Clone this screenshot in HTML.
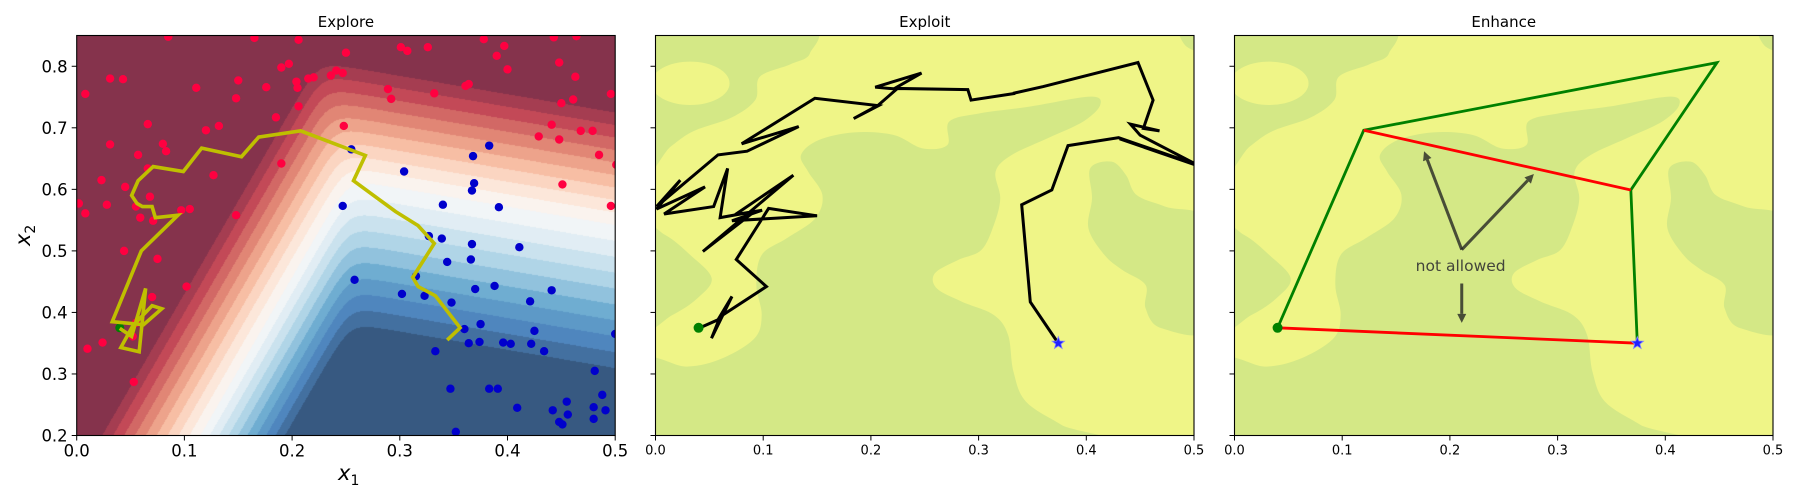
<!DOCTYPE html>
<html><head><meta charset="utf-8">
<style>
html,body{margin:0;padding:0;background:#fff;}
#wrap{position:relative;width:1800px;height:500px;overflow:hidden;background:#fff;}
canvas{position:absolute;left:77px;top:36px;}
svg{position:absolute;left:0;top:0;}
text{font-family:"DejaVu Sans","Liberation Sans",sans-serif;fill:#000;}
</style></head>
<body>
<div id="wrap">
<canvas id="bg1" width="538" height="400"></canvas>
<svg id="svg" width="1800" height="500" xmlns="http://www.w3.org/2000/svg">
<defs>
<clipPath id="c0"><rect x="76.7" y="35.5" width="538.5" height="400"/></clipPath>
<clipPath id="c1"><rect x="655.5" y="35.5" width="538.5" height="400"/></clipPath>
<clipPath id="c2"><rect x="1234.5" y="35.5" width="538.5" height="400"/></clipPath>
</defs>
</svg>
</div>
<script>
// ---------- data ----------
const xTicks = [0.0, 0.1, 0.2, 0.3, 0.4, 0.5];
const xTickLabels = ["0.0","0.1","0.2","0.3","0.4","0.5"];
const yTicks = [0.2, 0.3, 0.4, 0.5, 0.6, 0.7, 0.8];
const yTickLabels = ["0.2","0.3","0.4","0.5","0.6","0.7","0.8"];
const titles = ["Explore","Exploit","Enhance"];

const redX = [0.085,0.165,0.206,0.301,0.307,0.326,0.378,0.397,0.390,0.400,0.250,0.031,0.043,0.008,0.111,0.150,0.176,0.204,0.205,0.215,0.220,0.236,0.241,0.247,0.190,0.197,0.148,0.206,0.289,0.292,0.332,0.361,0.364,0.066,0.120,0.132,0.185,0.248,0.429,0.031,0.057,0.080,0.083,0.066,0.190,0.127,0.023,0.045,0.068,0.028,0.002,0.008,0.055,0.059,0.071,0.097,0.105,0.148,0.044,0.075,0.102,0.070,0.055,0.052,0.024,0.010,0.053,
  0.443,0.464,0.448,0.463,0.450,0.461,0.496,0.441,0.468,0.479,0.448,0.485,0.501,0.451,0.496];
const redY = [0.848,0.846,0.843,0.831,0.825,0.831,0.844,0.833,0.817,0.795,0.822,0.780,0.779,0.755,0.765,0.777,0.766,0.775,0.765,0.780,0.782,0.785,0.793,0.789,0.798,0.804,0.748,0.735,0.763,0.747,0.756,0.768,0.771,0.706,0.696,0.703,0.717,0.703,0.686,0.673,0.656,0.674,0.662,0.634,0.642,0.623,0.615,0.604,0.588,0.575,0.577,0.561,0.572,0.554,0.549,0.566,0.568,0.558,0.500,0.487,0.442,0.425,0.383,0.361,0.351,0.341,0.287,
  0.847,0.849,0.806,0.783,0.740,0.746,0.755,0.705,0.695,0.695,0.681,0.656,0.640,0.608,0.573];
const blueX = [0.255,0.383,0.368,0.304,0.369,0.367,0.247,0.340,0.392,0.327,0.339,0.367,0.411,0.344,0.366,0.315,0.258,0.388,0.370,0.302,0.323,0.348,0.421,0.360,0.375,0.425,0.364,0.374,0.396,0.403,0.422,0.333,
  0.441,0.500,0.434,0.481,0.488,0.455,0.442,0.456,0.480,0.491,0.480,0.448,0.451,0.347,0.383,0.391,0.409,0.352];
const blueY = [0.665,0.671,0.654,0.629,0.610,0.598,0.573,0.575,0.571,0.524,0.520,0.511,0.506,0.482,0.486,0.459,0.453,0.443,0.438,0.430,0.427,0.416,0.418,0.373,0.381,0.370,0.350,0.352,0.351,0.349,0.349,0.337,
  0.436,0.365,0.337,0.305,0.266,0.255,0.241,0.234,0.246,0.241,0.227,0.222,0.218,0.276,0.276,0.276,0.245,0.206];

const exploreX = [0.040,0.051,0.064,0.058,0.041,0.052,0.070,0.079,0.062,0.033,0.060,0.094,0.073,0.070,0.061,0.056,0.051,0.057,0.071,0.099,0.116,0.153,0.169,0.208,0.268,0.257,0.296,0.317,0.332,0.312,0.317,0.333,0.356,0.344];
const exploreY = [0.374,0.361,0.439,0.336,0.343,0.378,0.411,0.406,0.380,0.385,0.500,0.558,0.554,0.572,0.572,0.577,0.590,0.614,0.637,0.629,0.667,0.653,0.685,0.695,0.655,0.614,0.564,0.541,0.512,0.457,0.442,0.427,0.375,0.355];

const exploitX = [0.040,0.058,0.071,0.052,0.060,0.103,0.075,0.105,0.150,0.071,0.099,0.074,0.128,0.044,0.092,0.060,0.067,0.054,0.008,0.046,0.001,0.023,0.001,0.058,0.085,0.133,0.080,0.148,0.207,0.184,0.207,0.224,0.204,0.247,0.222,0.290,0.293,0.334,0.332,0.360,0.448,0.462,0.453,0.468,0.441,0.450,0.506,0.431,0.501,0.430,0.383,0.368,0.340,0.348,0.372,0.374];
const exploitY = [0.374,0.388,0.426,0.358,0.393,0.442,0.486,0.569,0.557,0.549,0.566,0.559,0.623,0.499,0.564,0.554,0.634,0.572,0.560,0.604,0.568,0.615,0.572,0.656,0.662,0.702,0.674,0.748,0.736,0.715,0.737,0.763,0.766,0.789,0.764,0.762,0.745,0.756,0.756,0.767,0.806,0.745,0.699,0.695,0.706,0.688,0.637,0.682,0.641,0.684,0.671,0.599,0.575,0.417,0.355,0.350];

const startPt = [0.040, 0.375];
const endPt = [0.374, 0.350];
const enhGreenX = [0.040,0.120,0.448,0.368,0.374];
const enhGreenY = [0.375,0.696,0.806,0.599,0.350];
const enhRedSegX = [[0.120,0.368],[0.040,0.374]];
const enhRedSegY = [[0.696,0.599],[0.375,0.350]];
const arrowFromX = [0.211,0.211,0.211];
const arrowFromY = [0.502,0.502,0.447];
const arrowToX = [0.176,0.278,0.211];
const arrowToY = [0.662,0.625,0.383];

// ---------- scales ----------
const lefts = [76.7, 655.5, 1234.5];
const PW = 538.5, TOP = 35.5, BOT = 435.5;
const X = (p, v) => lefts[p] + v / 0.5 * PW;
const Y = v => BOT - (v - 0.2) / 0.65 * (BOT - TOP);

const NS = "http://www.w3.org/2000/svg";
const svg = document.getElementById("svg");
function mk(tag, attrs, parent) {
  const e = document.createElementNS(NS, tag);
  for (const k in attrs) e.setAttribute(k, attrs[k]);
  (parent || svg).appendChild(e);
  return e;
}

// ---------- panel 1 contour background ----------
(function () {
  const cv = document.getElementById("bg1");
  const ctx = cv.getContext("2d");
  const img = ctx.createImageData(538, 400);
  const stops = [[103,0,31],[178,24,43],[214,96,77],[244,165,130],[253,219,199],[247,247,247],[209,229,240],[146,197,222],[67,147,195],[33,102,172],[5,48,97]];
  function rdbu(t) {
    const s = t * 10, i = Math.min(9, Math.floor(s)), f = s - i;
    const a = stops[i], b = stops[i + 1];
    return [0,1,2].map(c => (a[c] + (b[c] - a[c]) * f) * 0.8 + 255 * 0.2);
  }
  const k = 0.8;
  for (let ly = 0; ly < 400; ly++) {
    for (let lx = 0; lx < 538; lx++) {
      const x = 77 + lx + 0.5, y = 36 + ly + 0.5;
      const an = 200 + 0.58 * (436 - y) - x;
      const A = an > 0 ? an / 10.9 : an / 9.4;
      const bn = 225 - 0.17 * (615 - x) - y;
      const B = bn > 0 ? bn / 12.5 : bn / 15.9;
      const m = Math.max(A, B);
      const f = m + k * Math.log(Math.exp((A - m) / k) + Math.exp((B - m) / k));
      let i = Math.floor(9 - f) + 1;
      i = Math.max(0, Math.min(19, i));
      const c = rdbu(i / 19);
      const o = (ly * 538 + lx) * 4;
      img.data[o] = c[0]; img.data[o+1] = c[1]; img.data[o+2] = c[2]; img.data[o+3] = 255;
    }
  }
  ctx.putImageData(img, 0, 0);
})();

// ---------- panels 2/3 background ----------
function smoothPath(pts) {
  const n = pts.length;
  let d = `M${pts[0][0]},${pts[0][1]}`;
  for (let i = 0; i < n; i++) {
    const p0 = pts[(i - 1 + n) % n], p1 = pts[i], p2 = pts[(i + 1) % n], p3 = pts[(i + 2) % n];
    const c1 = [p1[0] + (p2[0] - p0[0]) / 6, p1[1] + (p2[1] - p0[1]) / 6];
    const c2 = [p2[0] - (p3[0] - p1[0]) / 6, p2[1] - (p3[1] - p1[1]) / 6];
    d += ` C${c1[0]},${c1[1]} ${c2[0]},${c2[1]} ${p2[0]},${p2[1]}`;
  }
  return d + "Z";
}
const G1 = [[-30,0],[430,0],[445,85],[390,118],[305,155],[292,225],[225,278],[120,318],[55,365],[-30,440]];
const G2 = [[-30,610],[40,630],[110,690],[170,760],[130,820],[60,870],[-30,905]];
const G3 = [[-30,1010],[100,1025],[200,1000],[290,940],[310,870],[295,780],[310,690],[380,640],[460,580],[480,510],[440,440],[420,390],[470,345],[570,322],[680,330],[760,370],[830,360],[835,290],[920,265],[1060,245],[1230,215],[1258,240],[1210,290],[1110,340],[1010,390],[965,440],[978,520],[960,600],[925,675],[860,705],[795,745],[800,790],[870,830],[960,870],[1000,930],[1015,1040],[1050,1130],[1150,1200],[1260,1270],[-30,1270]];
const G4 = [[1230,430],[1290,410],[1330,450],[1360,510],[1440,545],[1570,600],[1570,905],[1430,910],[1385,850],[1385,780],[1320,735],[1270,690],[1225,610],[1235,520]];
const G5 = [[1480,0],[1570,0],[1570,80],[1500,65]];
[1, 2].forEach(p => {
  const g = mk("g", {"clip-path": `url(#c${p})`});
  
  
  const r = mk("rect", {x: lefts[p], y: TOP, width: PW, height: 400, fill: "#eff587"}, g);
  
  
  const t = mk("g", {transform: `translate(${lefts[p] - 4.5},${TOP - 10.5}) scale(0.3571,0.3333)`}, g);
  [G1, G2, G3, G4, G5].forEach(pts => {
    const e = mk("path", {d: smoothPath(pts), fill: "#d4e886"}, t);
    
    
  });
  const el = mk("ellipse", {cx: 110, cy: 175, rx: 110, ry: 65, fill: "#eff587"}, t);
  
  
});

// ---------- panel 1 marks ----------
const g0 = mk("g", {"clip-path": "url(#c0)"});


redX.forEach((v, i) => {
  const c = mk("circle", {cx: X(0, v), cy: Y(redY[i]), r: 4.2, fill: "#ff0040"}, g0);
  
  
});
blueX.forEach((v, i) => {
  const c = mk("circle", {cx: X(0, v), cy: Y(blueY[i]), r: 4.2, fill: "#0000cc"}, g0);
  
  
});
const s0 = mk("circle", {cx: X(0, startPt[0]), cy: Y(startPt[1]), r: 4.5, fill: "#008000"}, g0);


const pl0 = mk("polyline", {points: exploreX.map((v, i) => X(0, v) + "," + Y(exploreY[i])).join(" "), fill: "none", stroke: "#bfbf00", "stroke-width": 3.6, "stroke-linejoin": "miter"}, g0);



// ---------- panel 2 marks ----------
const g1 = mk("g", {"clip-path": "url(#c1)"});


const pl1 = mk("polyline", {points: exploitX.map((v, i) => X(1, v) + "," + Y(exploitY[i])).join(" "), fill: "none", stroke: "#000", "stroke-width": 3, "stroke-linejoin": "miter"}, g1);



function star(cx, cy, R, parent, name) {
  let pts = [];
  for (let i = 0; i < 10; i++) {
    const a = -Math.PI / 2 + i * Math.PI / 5, r = i % 2 ? R * 0.42 : R;
    pts.push((cx + r * Math.cos(a)).toFixed(2) + "," + (cy + r * Math.sin(a)).toFixed(2));
  }
  const e = mk("polygon", {points: pts.join(" "), fill: "#2020ff", stroke: "#8080ff", "stroke-width": 0.8}, parent);
  
  
}
const s1 = mk("circle", {cx: X(1, startPt[0]), cy: Y(startPt[1]), r: 5, fill: "#008000"}, g1);


star(X(1, endPt[0]), Y(endPt[1]), 6.5, g1, 'end-star');

// ---------- panel 3 marks ----------
const g2 = mk("g", {"clip-path": "url(#c2)"});


const pl2 = mk("polyline", {points: enhGreenX.map((v, i) => X(2, v) + "," + Y(enhGreenY[i])).join(" "), fill: "none", stroke: "#008000", "stroke-width": 2.8}, g2);


enhRedSegX.forEach((xs, i) => {
  const l = mk("line", {x1: X(2, xs[0]), y1: Y(enhRedSegY[i][0]), x2: X(2, xs[1]), y2: Y(enhRedSegY[i][1]), stroke: "#ff0000", "stroke-width": 2.8}, g2);
  
  
});
arrowFromX.forEach((v, i) => {
  const x1 = X(2, v), y1 = Y(arrowFromY[i]), x2 = X(2, arrowToX[i]), y2 = Y(arrowToY[i]);
  const dx = x2 - x1, dy = y2 - y1, L = Math.hypot(dx, dy), ux = dx / L, uy = dy / L;
  const hl = 9, hw = 4.5;
  const bx = x2 - ux * hl, by = y2 - uy * hl;
  const ag = mk("g", {opacity: 0.78}, g2);
  
  
  mk("line", {x1: x1, y1: y1, x2: bx, y2: by, stroke: "#222", "stroke-width": 3}, ag);
  mk("polygon", {points: `${x2},${y2} ${bx - uy * hw},${by + ux * hw} ${bx + uy * hw},${by - ux * hw}`, fill: "#222"}, ag);
});
const s2 = mk("circle", {cx: X(2, startPt[0]), cy: Y(startPt[1]), r: 5, fill: "#008000"}, g2);


star(X(2, endPt[0]), Y(endPt[1]), 6.5, g2, 'end-star');
const na = mk("text", {x: X(2, 0.21), y: Y(0.476) + 5.5, "text-anchor": "middle", "font-size": 15.5, style: "fill:#333;opacity:0.9"});
na.textContent = "not allowed";



// ---------- axes ----------
[0, 1, 2].forEach(p => {
  const fr = mk("rect", {x: lefts[p], y: TOP, width: PW, height: 400, fill: "none", stroke: "#000", "stroke-width": 1.1});
  
  
  const tt = mk("text", {x: lefts[p] + PW / 2, y: 27, "text-anchor": "middle", "font-size": 15});
  tt.textContent = titles[p];
  
  
  const fs = p === 0 ? 16.5 : 13;
  xTicks.forEach((v, i) => {
    const x = X(p, v);
    const tk = mk("line", {x1: x, y1: BOT, x2: x, y2: BOT + 5, stroke: "#000", "stroke-width": 1});
    
    
    const lb = mk("text", {x: x, y: BOT + (p === 0 ? 21 : 19), "text-anchor": "middle", "font-size": fs});
    lb.textContent = xTickLabels[i];
    
    
  });
  yTicks.forEach((v, i) => {
    const y = Y(v);
    const tk = mk("line", {x1: lefts[p] - 5, y1: y, x2: lefts[p], y2: y, stroke: "#000", "stroke-width": 1});
    
    
    if (p === 0) {
      const lb = mk("text", {x: lefts[p] - 9, y: y + 6, "text-anchor": "end", "font-size": fs});
      lb.textContent = yTickLabels[i];
      
      
    }
  });
});
const xl = mk("text", {x: 338, y: 480, "font-size": 21, "font-style": "italic"});
xl.innerHTML = 'x<tspan font-size="14" font-style="normal" dy="5">1</tspan>';


const yl = mk("text", {x: 0, y: 0, "font-size": 21, "font-style": "italic", transform: "translate(30,246) rotate(-90)"});
yl.innerHTML = 'x<tspan font-size="14" font-style="normal" dy="5">2</tspan>';


</script>
</body></html>
